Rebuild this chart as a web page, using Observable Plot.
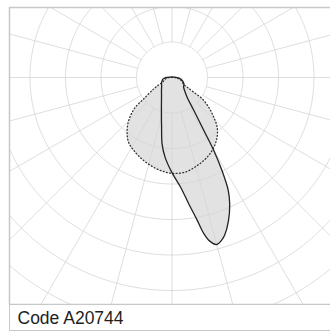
<!DOCTYPE html>
<html>
<head>
<meta charset="utf-8">
<script src="https://cdn.jsdelivr.net/npm/d3@7"></script>
<script src="https://cdn.jsdelivr.net/npm/@observablehq/plot@0.6"></script>
<style>
  html, body { margin: 0; padding: 0; background: #fff; overflow: hidden; }
  #wrap { width: 330px; position: relative; }
  #caption {
    margin-left: 9px;
    height: 25px;
    border-left: 1.5px solid #c8c8c8;
    border-bottom: 1.5px solid #c8c8c8;
    font-family: "Liberation Sans", Arial, sans-serif;
    font-size: 17.5px;
    line-height: 26px;
    color: #1e1e1e;
    padding-left: 7.5px;
    box-sizing: content-box;
  }
  svg { display: block; }
</style>
</head>
<body>
<div id="wrap"></div>
<script>
// Polar grid (intensity rings and 15° gamma spokes)
const gridRings = [100, 200, 300, 400, 500, 600, 700, 800];
const gridAngles = [0, 15, 30, 45, 60, 75, 90, 105, 120, 135, 150, 165, 180, 195, 210, 225, 240, 255, 270, 285, 300, 315, 330, 345];

// Solid curve (C0–C180 plane): gamma angle (deg from nadir) and intensity
const solidAngles = [-105, -90, -80, -70, -60, -50, -40, -30, -20, -15, -12, -8.5, -5, 0, 4.5, 7.5, 10, 11.5, 13, 15, 17, 18.5, 21.5, 24.5, 26.5, 28.2, 29.8, 31, 33.5, 37.5, 44, 51, 62, 74, 85, 100];
const solidValues = [5, 18, 26, 30, 34, 38, 46, 59, 87, 115, 141, 189, 225, 268, 310, 358, 408, 448, 473, 487, 479, 468, 434, 392, 355, 299, 237, 175, 113, 70, 51, 42, 38, 30, 20, 6];

// Dotted curve (C90–C270 plane)
const dottedAngles = [-90, -80, -70, -65, -60, -58, -53, -51, -47.5, -43.7, -38.5, -33.7, -27.6, -21.4, -13.7, -7, 0, 8, 16, 24, 31, 37, 42.3, 46.5, 51, 54.8, 56, 57.5, 59.3, 65, 75, 85, 90];
const dottedValues = [8, 17, 24, 28, 48, 61, 99, 132, 158, 180, 203, 220, 232, 243, 255, 264, 270, 269, 258, 245, 229, 211, 189, 162, 133, 104, 74, 51, 39, 32, 25, 14, 8];

const caption = "Code A20744";

const rad = d => d * Math.PI / 180;
const polar = (g, r) => ({x: r * Math.sin(rad(g)), y: -r * Math.cos(rad(g))});

const solid = solidAngles.map((g, i) => polar(g, solidValues[i]));
const dotted = dottedAngles.map((g, i) => polar(g, dottedValues[i]));

const ringPts = [];
for (const r of gridRings) {
  for (let a = 0; a <= 360; a += 2) ringPts.push({ring: r, ...polar(a, r)});
}
const spokes = gridAngles.map(a => {
  const p1 = polar(a, gridRings[0]);
  const p2 = polar(a, 1200);
  return {x1: p1.x, y1: p1.y, x2: p2.x, y2: p2.y};
});

const xDomain = [-457.7, 446.5];
const yDomain = [-639.4, 197.2];

const plot = Plot.plot({
  width: 330,
  height: 305,
  marginLeft: 9,
  marginRight: 0,
  marginTop: 7,
  marginBottom: 1,
  x: {domain: xDomain, axis: null},
  y: {domain: yDomain, axis: null},
  style: {background: "#fff"},
  marks: [
    Plot.line(dotted, {x: "x", y: "y", fill: "#e2e2e2", stroke: "none", curve: "catmull-rom-closed", clip: true}),
    Plot.line(solid, {x: "x", y: "y", fill: "#e2e2e2", stroke: "none", curve: "catmull-rom-closed", clip: true}),
    Plot.line(ringPts, {x: "x", y: "y", z: "ring", stroke: "#d6d6d6", strokeWidth: 0.8, clip: true}),
    Plot.link(spokes, {x1: "x1", y1: "y1", x2: "x2", y2: "y2", stroke: "#d6d6d6", strokeWidth: 0.8, clip: true}),
    Plot.line(dotted, {x: "x", y: "y", stroke: "#333", strokeWidth: 1.3, strokeDasharray: "0.9,2.4", strokeLinecap: "round", curve: "catmull-rom-closed", clip: true}),
    Plot.line(solid, {x: "x", y: "y", stroke: "#222", strokeWidth: 1.3, curve: "catmull-rom-closed", clip: true}),
    Plot.ruleX([xDomain[0]], {stroke: "#c8c8c8", strokeWidth: 1.5}),
    Plot.ruleY([yDomain[1]], {stroke: "#c8c8c8", strokeWidth: 1.5}),
    Plot.ruleY([yDomain[0]], {stroke: "#c8c8c8", strokeWidth: 1.5})
  ]
});

const wrap = document.getElementById("wrap");
wrap.appendChild(plot);
const cap = document.createElement("div");
cap.id = "caption";
cap.textContent = caption;
wrap.appendChild(cap);
</script>
</body>
</html>
